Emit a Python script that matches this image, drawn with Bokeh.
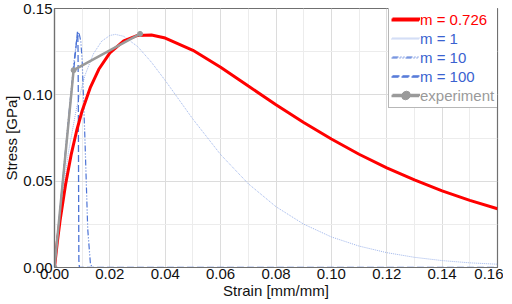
from bokeh.plotting import figure
from bokeh.models import Range1d, FixedTicker, NumeralTickFormatter, Legend, LegendItem
from bokeh.embed import file_html
from bokeh.resources import INLINE

# ---- data ----
strain_m0726 = [0, 0.001, 0.002, 0.004, 0.006, 0.008, 0.010, 0.013, 0.016, 0.020, 0.025, 0.030,
                0.035, 0.040, 0.05, 0.06, 0.07, 0.08, 0.09, 0.10, 0.11, 0.12, 0.13, 0.14, 0.15, 0.16]
stress_m0726 = [0, 0.0145, 0.0271, 0.0481, 0.0652, 0.0792, 0.0908, 0.1045, 0.1148, 0.1243, 0.1313, 0.1344,
                0.1347, 0.1329, 0.1258, 0.1160, 0.1051, 0.0943, 0.0840, 0.0744, 0.0656, 0.0577, 0.0507,
                0.0444, 0.0389, 0.0340]

strain_m1 = [0, 0.002, 0.005, 0.008, 0.011, 0.014, 0.017, 0.020, 0.022, 0.025, 0.030, 0.035, 0.040,
             0.045, 0.050, 0.060, 0.070, 0.080, 0.090, 0.100, 0.110, 0.120, 0.130, 0.140, 0.150, 0.160]
stress_m1 = [0, 0.0305, 0.0664, 0.0927, 0.1113, 0.1236, 0.1310, 0.1344, 0.1350, 0.1339, 0.1280, 0.1189,
             0.1083, 0.0971, 0.0859, 0.0654, 0.0485, 0.0352, 0.0251, 0.0177, 0.0124, 0.0086, 0.0059,
             0.0040, 0.0027, 0.0019]

strain_m10 = [0, 0.002, 0.004, 0.006, 0.007, 0.008, 0.0088, 0.0095, 0.010, 0.011, 0.012, 0.013, 0.014, 0.16]
stress_m10 = [0, 0.0342, 0.0684, 0.1024, 0.1185, 0.1316, 0.1362, 0.1311, 0.1195, 0.0741, 0.0223, 0.0016, 0.0, 0.0]

strain_m100 = [0, 0.004, 0.0083, 0.0084, 0.0085, 0.0086, 0.0087, 0.0088, 0.009, 0.16]
stress_m100 = [0, 0.0665, 0.1365, 0.1350, 0.1268, 0.1009, 0.0481, 0.0042, 0.0, 0.0]

strain_exp = [0, 0.0069, 0.0309]
stress_exp = [0, 0.1143, 0.1353]

x_ticks = [0, 0.02, 0.04, 0.06, 0.08, 0.10, 0.12, 0.14, 0.16]
x_minor = [0.01, 0.03, 0.05, 0.07, 0.09, 0.11, 0.13, 0.15]
y_ticks = [0, 0.05, 0.10, 0.15]
y_minor = [0.025, 0.075, 0.125]

FONT = "Liberation Sans"
RED = "#ff0000"
BLUE = "#3a62d0"
LIGHTBLUE = "#9db4ea"
GRAY = "#9a9a9a"

FW, FH = 443, 259
p = figure(frame_width=FW, frame_height=FH, output_backend="svg", toolbar_location=None,
           x_range=Range1d(0, 0.16), y_range=Range1d(0, 0.15),
           min_border_left=0, min_border_right=6, min_border_top=8, min_border_bottom=0)
p.background_fill_color = "white"
p.border_fill_color = "white"
p.outline_line_color = "#707070"
p.outline_line_width = 1.2

p.xaxis.ticker = FixedTicker(ticks=x_ticks, minor_ticks=x_minor)
p.yaxis.ticker = FixedTicker(ticks=y_ticks, minor_ticks=y_minor)
for ax in (p.xaxis, p.yaxis):
    ax.formatter = NumeralTickFormatter(format="0.00")
    ax.major_tick_line_color = None
    ax.minor_tick_line_color = None
    ax.major_tick_out = 0
    ax.minor_tick_out = 0
    ax.major_tick_in = 0
    ax.minor_tick_in = 0
    ax.axis_line_color = "#707070"
    ax.axis_line_width = 1.2
    ax.major_label_text_font = FONT
    ax.major_label_text_font_size = "15px"
    ax.major_label_text_color = "#111111"
    ax.axis_label_text_font = FONT
    ax.axis_label_text_font_size = "15px"
    ax.axis_label_text_font_style = "normal"
    ax.axis_label_text_color = "#111111"
p.xaxis.major_label_standoff = 1
p.yaxis.major_label_standoff = 2
p.xaxis.axis_label_standoff = 0
p.yaxis.axis_label_standoff = 0
p.xaxis.axis_label = "Strain [mm/mm]"
p.yaxis.axis_label = "Stress [GPa]"

p.xgrid.grid_line_color = "#dcdcdc"
p.ygrid.grid_line_color = "#dcdcdc"
p.xgrid.minor_grid_line_color = "#ececec"
p.ygrid.minor_grid_line_color = "#ececec"

r1 = p.line(strain_m1, stress_m1, line_color=LIGHTBLUE, line_width=1, line_dash="1 1")
r10 = p.line(strain_m10, stress_m10, line_color="#4d74d6", line_width=1.2, line_dash="6 2 1 2 1 2")
r100 = p.line(strain_m100, stress_m100, line_color="#4d74d6", line_width=1.3, line_dash="7 3")
rr = p.line(strain_m0726, stress_m0726, line_color=RED, line_width=3)
re = p.line(strain_exp, stress_exp, line_color=GRAY, line_width=2.5)
rs = p.scatter(strain_exp, stress_exp, marker="circle", size=5, fill_color=GRAY, line_color=GRAY)

ROW = 19
PAD = 3
LW = 109
LX = FW - LW
TOP = FH + 1
common = dict(glyph_width=28, glyph_height=ROW, label_height=ROW, label_standoff=1,
              spacing=0, padding=PAD, margin=0, label_text_font=FONT,
              label_text_font_size="15px")

items_all = [LegendItem(label="m = 0.726", renderers=[rr]),
             LegendItem(label="m = 1", renderers=[r1]),
             LegendItem(label="m = 10", renderers=[r10]),
             LegendItem(label="m = 100", renderers=[r100]),
             LegendItem(label="experiment", renderers=[re, rs])]
box = Legend(items=items_all, location=(LX, TOP - (5 * ROW + 2 * PAD)),
             border_line_color="#707070", border_line_width=1.2,
             background_fill_color="white", background_fill_alpha=1, label_text_alpha=0, **common)
p.add_layout(box)

leg_red = Legend(items=[LegendItem(label="m = 0.726", renderers=[rr])],
                 location=(LX, TOP - (1 * ROW + 2 * PAD)),
                 border_line_alpha=0, background_fill_alpha=0, label_text_color=RED, **common)
leg_blue = Legend(items=[LegendItem(label="m = 1", renderers=[r1]),
                         LegendItem(label="m = 10", renderers=[r10]),
                         LegendItem(label="m = 100", renderers=[r100])],
                  location=(LX, TOP - ROW - (3 * ROW + 2 * PAD)),
                  border_line_alpha=0, background_fill_alpha=0, label_text_color=BLUE, **common)
leg_gray = Legend(items=[LegendItem(label="experiment", renderers=[re, rs])],
                  location=(LX, TOP - 4 * ROW - (1 * ROW + 2 * PAD)),
                  border_line_alpha=0, background_fill_alpha=0, label_text_color=GRAY, **common)
for lg in (leg_red, leg_blue, leg_gray):
    p.add_layout(lg)

open("out.html", "w").write(file_html(p, INLINE))
